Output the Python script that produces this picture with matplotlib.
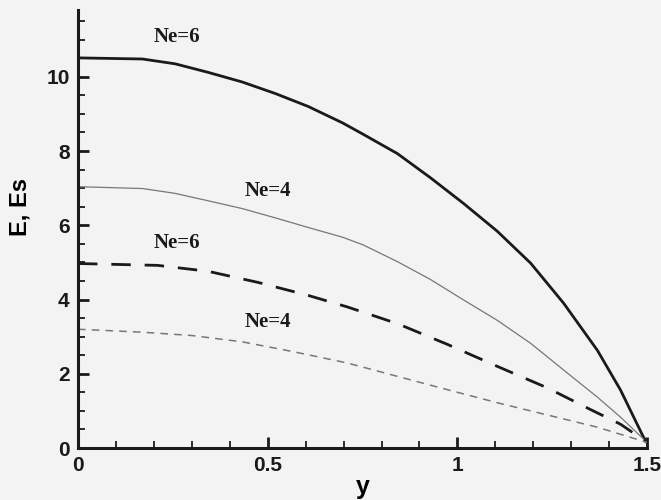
import matplotlib
matplotlib.use("Agg")
from matplotlib import pyplot as plt
from matplotlib.ticker import MultipleLocator

# E for Ne=6 (solid, thick)
x_e6 = [0.0, 0.17, 0.256, 0.343, 0.433, 0.52, 0.607, 0.697, 0.752, 0.842, 0.929,
        1.016, 1.105, 1.193, 1.28, 1.369, 1.43, 1.49, 1.5]
e6 = [10.51, 10.48, 10.35, 10.12, 9.86, 9.55, 9.2, 8.76, 8.45, 7.93, 7.28,
      6.59, 5.84, 4.98, 3.9, 2.63, 1.56, 0.3, 0.15]

# E for Ne=4 (solid, thin)
x_e4 = [0.0, 0.17, 0.256, 0.343, 0.433, 0.52, 0.607, 0.697, 0.752, 0.842, 0.929,
        1.016, 1.105, 1.193, 1.28, 1.369, 1.43, 1.5]
e4 = [7.04, 6.99, 6.86, 6.66, 6.45, 6.2, 5.94, 5.68, 5.47, 5.02, 4.54,
      3.99, 3.44, 2.82, 2.1, 1.37, 0.83, 0.15]

# Es for Ne=6 (dashed, thick)
x_s6 = [0.0, 0.21, 0.343, 0.475, 0.607, 0.71, 0.842, 0.974, 1.105, 1.237, 1.35,
        1.43, 1.5]
s6 = [4.97, 4.92, 4.76, 4.46, 4.11, 3.8, 3.35, 2.79, 2.2, 1.62, 1.04,
      0.64, 0.15]

# Es for Ne=4 (dashed, thin)
x_s4 = [0.0, 0.17, 0.3, 0.433, 0.565, 0.71, 0.842, 0.974, 1.105, 1.237, 1.369, 1.5]
s4 = [3.2, 3.12, 3.03, 2.86, 2.6, 2.29, 1.93, 1.57, 1.22, 0.89, 0.56, 0.15]

bg = "#f3f3f3"
fig = plt.figure(figsize=(6.61, 5.0), dpi=100, facecolor=bg)
ax = fig.add_axes([0.118, 0.104, 0.861, 0.876], facecolor=bg)

ax.plot(x_e6, e6, color="#1a1a1a", lw=2.0, solid_joinstyle="round")
ax.plot(x_e4, e4, color="#777777", lw=0.9, solid_joinstyle="round")
ax.plot(x_s6, s6, color="#1a1a1a", lw=2.0, dashes=(7, 5))
ax.plot(x_s4, s4, color="#777777", lw=1.1, dashes=(5, 4))

lab = dict(family="Liberation Serif", fontsize=15, fontweight="bold", color="#1a1a1a")
ax.text(0.2, 10.95, "Ne=6", **lab)
ax.text(0.44, 6.8, "Ne=4", **lab)
ax.text(0.2, 5.4, "Ne=6", **lab)
ax.text(0.44, 3.25, "Ne=4", **lab)

ax.set_xlim(0, 1.5)
ax.set_ylim(0, 11.8)
ax.spines["top"].set_visible(False)
ax.spines["right"].set_visible(False)
ax.spines["left"].set_linewidth(2.2)
ax.spines["bottom"].set_linewidth(2.2)
ax.spines["left"].set_color("#1a1a1a")
ax.spines["bottom"].set_color("#1a1a1a")

ax.xaxis.set_major_locator(MultipleLocator(0.5))
ax.xaxis.set_minor_locator(MultipleLocator(0.1))
ax.yaxis.set_major_locator(MultipleLocator(2))
ax.yaxis.set_minor_locator(MultipleLocator(0.5))
ax.set_xticks([0, 0.5, 1, 1.5])
ax.set_xticklabels(["0", "0.5", "1", "1.5"])
ax.tick_params(which="major", direction="in", length=8, width=2, color="#1a1a1a",
               labelsize=15, pad=6)
ax.tick_params(which="minor", direction="in", length=5, width=1.3, color="#1a1a1a")
for t in ax.get_xticklabels() + ax.get_yticklabels():
    t.set_family("Liberation Sans")
    t.set_fontweight("bold")
    t.set_color("#1a1a1a")

ax.set_xlabel("y", family="Liberation Sans", fontsize=18, fontweight="bold", labelpad=0)
ax.set_ylabel("E, Es", family="Liberation Sans", fontsize=17, fontweight="bold")
ax.yaxis.set_label_coords(-0.082, 0.55)

plt.savefig("out.png", dpi=100, facecolor=bg)
